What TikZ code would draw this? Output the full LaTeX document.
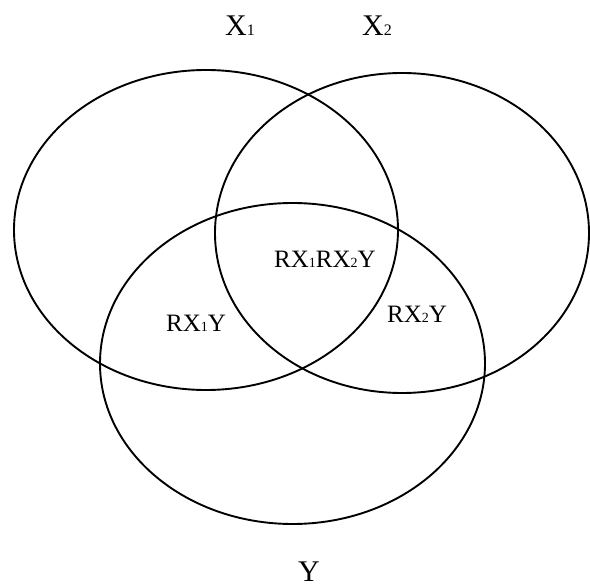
\documentclass[tikz,border=0pt]{standalone}
\usepackage{fontspec}
\setmainfont{Liberation Serif}
\newcommand{\smalldig}[2]{{\fontsize{#1}{#1}\selectfont #2}}
\begin{document}
\begin{tikzpicture}[x=1pt,y=-1pt,
  setline/.style={draw=black,line width=1.9pt},
  biglabel/.style={inner sep=0pt,anchor=base,font=\fontsize{30}{30}\selectfont},
  reglabel/.style={inner sep=0pt,anchor=base,font=\fontsize{25}{25}\selectfont}]
\useasboundingbox (0,0) rectangle (590,588);
\draw[setline] (206,230) ellipse [x radius=192,y radius=160];
\draw[setline] (402,233) ellipse [x radius=187,y radius=160];
\draw[setline] (292.5,363.5) ellipse [x radius=192.5,y radius=160.5];
\node[biglabel] (x1) at (240,36) {X\smalldig{16}{1}};
\node[biglabel] (x2) at (377,36) {X\smalldig{16}{2}};
\node[biglabel] (y) at (309,581) {Y};
\node[reglabel] (rx1rx2y) at (325,268) {RX\smalldig{14}{1}RX\smalldig{14}{2}Y};
\node[reglabel] (rx1y) at (196,332) {RX\smalldig{14}{1}Y};
\node[reglabel] (rx2y) at (417,323) {RX\smalldig{14}{2}Y};
\end{tikzpicture}
\end{document}
